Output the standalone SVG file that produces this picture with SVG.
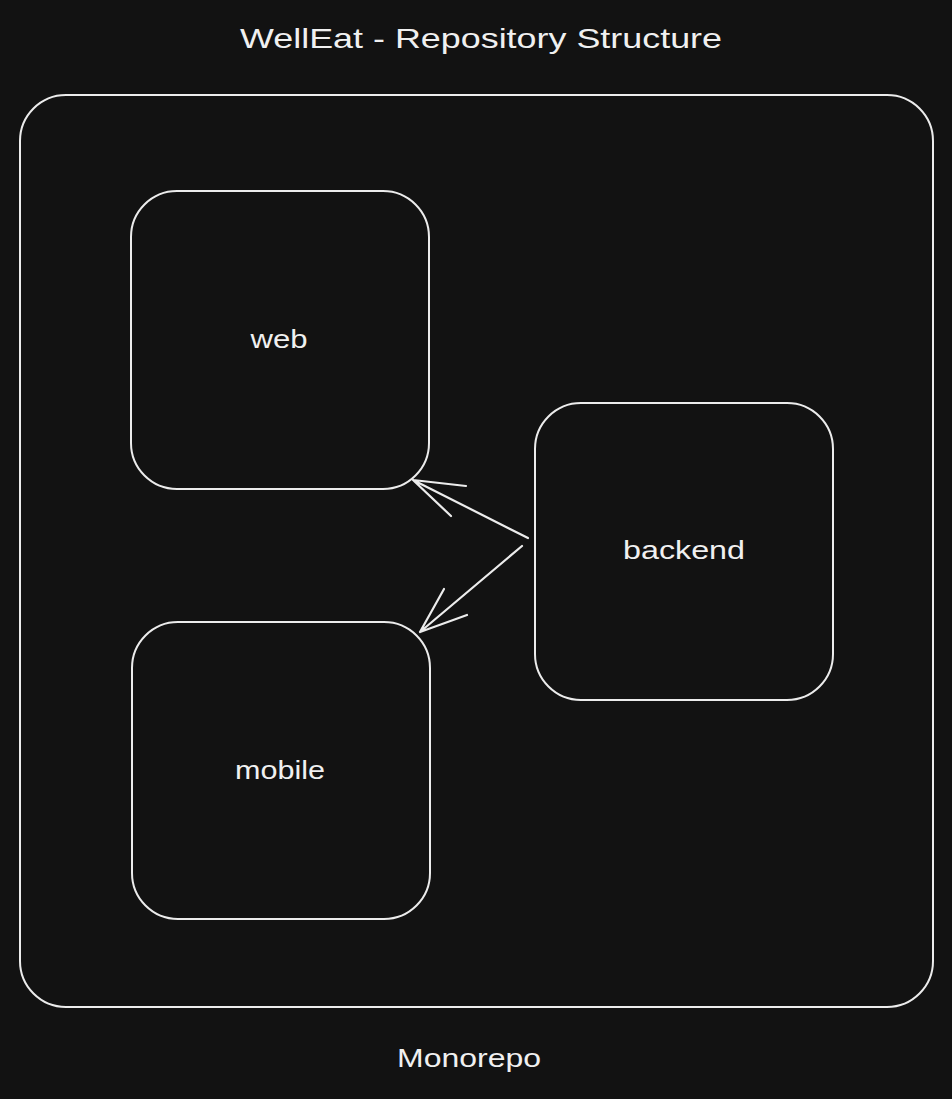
<svg xmlns="http://www.w3.org/2000/svg" width="952" height="1099" viewBox="0 0 952 1099">
<style>
.box{fill:none;stroke:#ececec;stroke-width:2;stroke-linecap:round}
.lbl{fill:#f0f0f0;font-family:"Liberation Sans","Noto Sans",sans-serif;text-anchor:middle;dominant-baseline:central}
.conn{fill:none;stroke:#ececec;stroke-width:2.2;stroke-linecap:round;stroke-linejoin:round}
</style>
<rect width="952" height="1099" fill="#121212"/>
<g id="title"><text class="lbl" x="481" y="38" font-size="28" textLength="482" lengthAdjust="spacingAndGlyphs">WellEat - Repository Structure</text></g>
<g id="monorepo">
<rect class="box" x="20" y="95" width="913" height="912" rx="46"/>
<text class="lbl" x="469" y="1058" font-size="26" textLength="144" lengthAdjust="spacingAndGlyphs">Monorepo</text>
</g>
<g id="web">
<rect class="box" x="131" y="191" width="298" height="298" rx="46"/>
<text class="lbl" x="279" y="339" font-size="26" textLength="57" lengthAdjust="spacingAndGlyphs">web</text>
</g>
<g id="mobile">
<rect class="box" x="132" y="622" width="298" height="297" rx="46"/>
<text class="lbl" x="280" y="770" font-size="26" textLength="90" lengthAdjust="spacingAndGlyphs">mobile</text>
</g>
<g id="backend">
<rect class="box" x="535" y="403" width="298" height="297" rx="46"/>
<text class="lbl" x="684" y="550" font-size="26" textLength="122" lengthAdjust="spacingAndGlyphs">backend</text>
</g>
<g id="connectors">
<path class="conn" d="M528 538 L413 480 M413 480 L466 486 M413 480 L451 516"/>
<path class="conn" d="M522 546 L420 632 M420 632 L444 589 M420 632 L467 615"/>
</g>
</svg>
